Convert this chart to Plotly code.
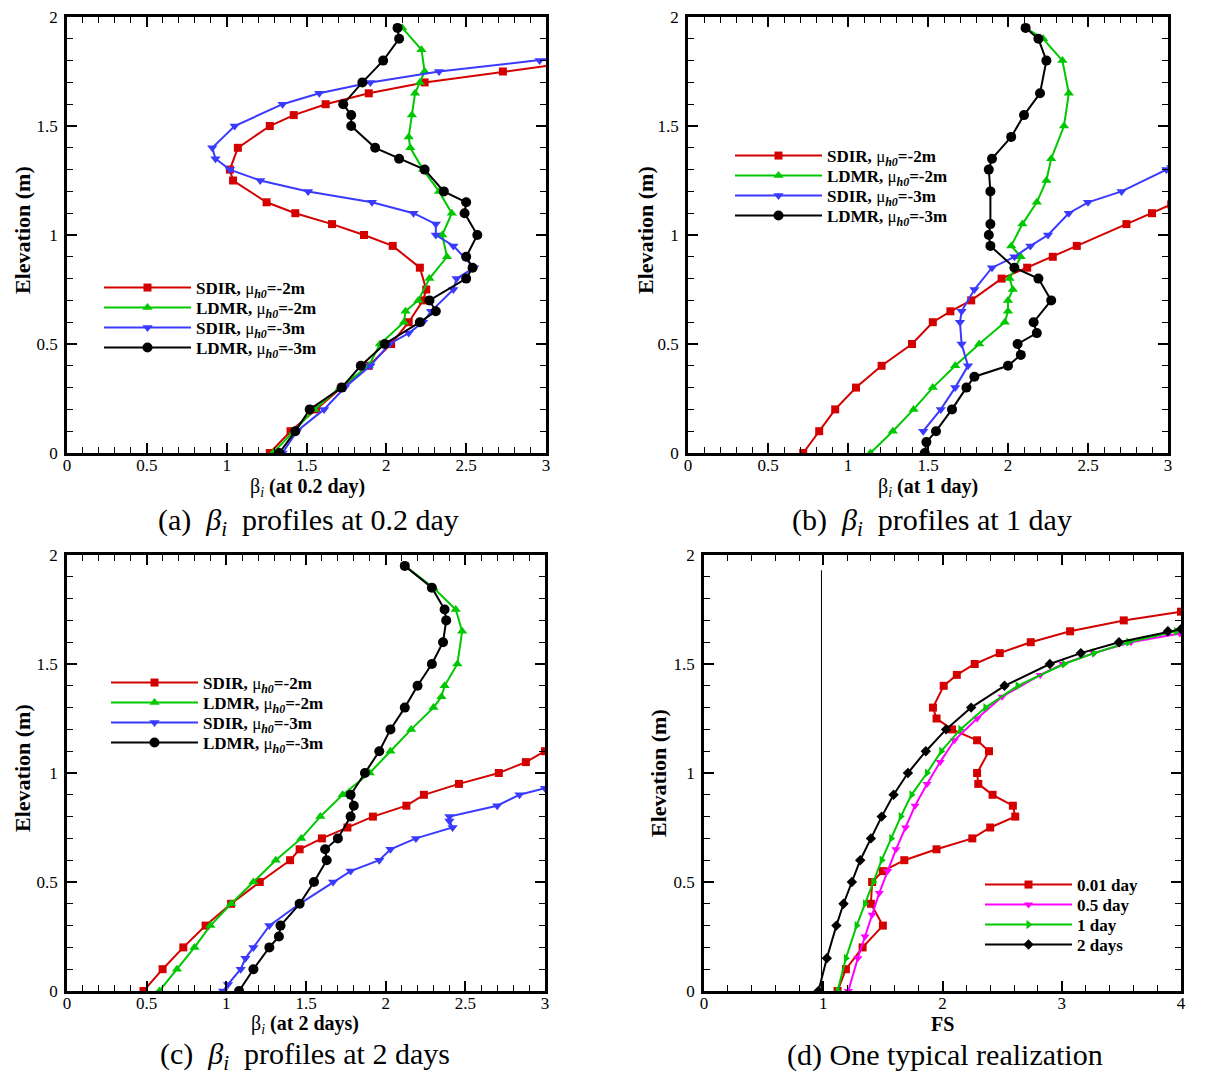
import plotly.graph_objects as go

# ---------------- data ----------------
# Panel (a): beta_i at 0.2 day
a_sdir2_x = [1.27, 1.40, 1.56, 1.72, 1.89, 2.03, 2.14, 2.23, 2.25, 2.21, 2.04, 1.86, 1.66, 1.43, 1.25, 1.04, 1.02, 1.07, 1.27, 1.42, 1.62, 1.89, 2.24, 2.73, 3.05]
a_sdir2_y = [0.0, 0.1, 0.2, 0.3, 0.4, 0.5, 0.6, 0.7, 0.75, 0.85, 0.95, 1.0, 1.05, 1.10, 1.15, 1.25, 1.30, 1.40, 1.50, 1.55, 1.60, 1.65, 1.70, 1.75, 1.78]
a_ldmr2_x = [1.29, 1.42, 1.55, 1.71, 1.89, 1.96, 2.11, 2.12, 2.20, 2.27, 2.38, 2.35, 2.41, 2.33, 2.23, 2.15, 2.14, 2.16, 2.18, 2.21, 2.24, 2.22, 2.10]
a_ldmr2_y = [0.0, 0.1, 0.2, 0.3, 0.4, 0.5, 0.6, 0.65, 0.70, 0.80, 0.90, 1.0, 1.10, 1.20, 1.30, 1.40, 1.45, 1.55, 1.65, 1.70, 1.75, 1.85, 1.95]
a_sdir3_x = [1.35, 1.44, 1.61, 1.74, 1.90, 2.02, 2.14, 2.23, 2.28, 2.42, 2.44, 2.55, 2.42, 2.31, 2.31, 2.17, 1.91, 1.51, 1.21, 1.02, 0.93, 0.91, 1.05, 1.35, 1.58, 1.90, 2.33, 2.96, 3.05]
a_sdir3_y = [0.0, 0.1, 0.2, 0.3, 0.4, 0.5, 0.55, 0.6, 0.65, 0.75, 0.80, 0.85, 0.95, 1.0, 1.05, 1.10, 1.15, 1.20, 1.25, 1.30, 1.35, 1.40, 1.50, 1.60, 1.65, 1.70, 1.75, 1.80, 1.81]
a_ldmr3_x = [1.33, 1.43, 1.52, 1.72, 1.84, 1.99, 2.21, 2.31, 2.27, 2.50, 2.54, 2.50, 2.57, 2.49, 2.50, 2.36, 2.24, 2.08, 1.93, 1.78, 1.78, 1.73, 1.85, 1.98, 2.08, 2.07]
a_ldmr3_y = [0.0, 0.1, 0.2, 0.3, 0.4, 0.5, 0.6, 0.65, 0.70, 0.80, 0.85, 0.90, 1.0, 1.10, 1.15, 1.20, 1.30, 1.35, 1.40, 1.50, 1.55, 1.60, 1.70, 1.80, 1.90, 1.95]

# Panel (b): beta_i at 1 day
b_sdir2_x = [0.72, 0.82, 0.92, 1.05, 1.21, 1.40, 1.53, 1.64, 1.77, 1.96, 2.12, 2.28, 2.43, 2.74, 2.90, 3.02]
b_sdir2_y = [0.0, 0.1, 0.2, 0.3, 0.4, 0.5, 0.6, 0.65, 0.70, 0.80, 0.85, 0.90, 0.95, 1.05, 1.10, 1.14]
b_ldmr2_x = [1.14, 1.28, 1.41, 1.53, 1.67, 1.82, 1.98, 2.00, 2.00, 2.03, 2.01, 2.08, 2.02, 2.09, 2.18, 2.24, 2.27, 2.35, 2.38, 2.34, 2.22, 2.11]
b_ldmr2_y = [0.0, 0.1, 0.2, 0.3, 0.4, 0.5, 0.6, 0.65, 0.70, 0.75, 0.80, 0.90, 0.95, 1.05, 1.15, 1.25, 1.35, 1.50, 1.65, 1.80, 1.90, 1.95]
b_sdir3_x = [1.47, 1.58, 1.67, 1.75, 1.71, 1.70, 1.71, 1.79, 1.90, 2.04, 2.14, 2.25, 2.38, 2.50, 2.71, 2.99, 3.02]
b_sdir3_y = [0.1, 0.2, 0.3, 0.4, 0.5, 0.6, 0.65, 0.75, 0.85, 0.90, 0.95, 1.0, 1.10, 1.15, 1.20, 1.30, 1.31]
b_ldmr3_x = [1.48, 1.49, 1.55, 1.65, 1.74, 1.79, 2.00, 2.08, 2.06, 2.18, 2.16, 2.27, 2.19, 2.04, 1.89, 1.88, 1.89, 1.89, 1.88, 1.90, 2.02, 2.10, 2.20, 2.24, 2.19, 2.11]
b_ldmr3_y = [0.0, 0.05, 0.1, 0.2, 0.3, 0.35, 0.4, 0.45, 0.5, 0.55, 0.6, 0.7, 0.8, 0.85, 0.95, 1.0, 1.05, 1.2, 1.3, 1.35, 1.45, 1.55, 1.65, 1.8, 1.9, 1.95]

# Panel (c): beta_i at 2 days
c_sdir2_x = [0.48, 0.60, 0.73, 0.87, 1.03, 1.21, 1.40, 1.46, 1.60, 1.76, 1.92, 2.13, 2.24, 2.46, 2.71, 2.88, 3.0]
c_sdir2_y = [0.0, 0.1, 0.2, 0.3, 0.4, 0.5, 0.6, 0.65, 0.7, 0.75, 0.8, 0.85, 0.9, 0.95, 1.0, 1.05, 1.10]
c_ldmr2_x = [0.58, 0.69, 0.80, 0.90, 1.03, 1.17, 1.31, 1.47, 1.59, 1.73, 1.90, 2.03, 2.16, 2.30, 2.35, 2.37, 2.45, 2.48, 2.44, 2.30, 2.12]
c_ldmr2_y = [0.0, 0.1, 0.2, 0.3, 0.4, 0.5, 0.6, 0.7, 0.8, 0.9, 1.0, 1.1, 1.2, 1.3, 1.35, 1.4, 1.5, 1.65, 1.75, 1.85, 1.95]
c_sdir3_x = [0.98, 1.01, 1.09, 1.12, 1.17, 1.27, 1.46, 1.67, 1.78, 1.96, 2.03, 2.19, 2.42, 2.40, 2.40, 2.70, 2.84, 3.0]
c_sdir3_y = [0.0, 0.03, 0.1, 0.15, 0.2, 0.3, 0.4, 0.5, 0.55, 0.6, 0.65, 0.7, 0.75, 0.78, 0.8, 0.85, 0.9, 0.93]
c_ldmr3_x = [1.08, 1.17, 1.27, 1.33, 1.34, 1.46, 1.55, 1.63, 1.62, 1.70, 1.78, 1.80, 1.78, 1.87, 1.96, 2.03, 2.12, 2.20, 2.29, 2.36, 2.38, 2.37, 2.29, 2.12]
c_ldmr3_y = [0.0, 0.1, 0.2, 0.25, 0.3, 0.4, 0.5, 0.6, 0.65, 0.7, 0.8, 0.85, 0.9, 1.0, 1.1, 1.2, 1.3, 1.4, 1.5, 1.6, 1.7, 1.75, 1.85, 1.95]

# Panel (d): FS for one realization
d_001_x = [1.12, 1.19, 1.33, 1.50, 1.40, 1.41, 1.50, 1.68, 1.95, 2.25, 2.40, 2.61, 2.59, 2.42, 2.30, 2.29, 2.39, 2.29, 2.08, 1.95, 1.92, 2.01, 2.12, 2.27, 2.48, 2.74, 3.07, 3.52, 4.0]
d_001_y = [0.0, 0.1, 0.2, 0.3, 0.4, 0.5, 0.55, 0.6, 0.65, 0.7, 0.75, 0.8, 0.85, 0.9, 0.95, 1.0, 1.1, 1.15, 1.2, 1.25, 1.3, 1.4, 1.45, 1.5, 1.55, 1.6, 1.65, 1.7, 1.74]
d_05_x = [1.21, 1.29, 1.35, 1.41, 1.47, 1.54, 1.61, 1.69, 1.77, 1.87, 1.98, 2.10, 2.29, 2.50, 2.82, 3.01, 3.27, 3.58, 3.99]
d_05_y = [0.0, 0.15, 0.25, 0.35, 0.45, 0.55, 0.65, 0.75, 0.85, 0.95, 1.05, 1.15, 1.25, 1.35, 1.45, 1.5, 1.55, 1.6, 1.64]
d_1_x = [1.12, 1.19, 1.28, 1.35, 1.42, 1.49, 1.57, 1.65, 1.74, 1.87, 1.99, 2.15, 2.36, 2.63, 3.02, 3.27, 3.56, 3.96]
d_1_y = [0.0, 0.15, 0.3, 0.4, 0.5, 0.6, 0.7, 0.8, 0.9, 1.0, 1.1, 1.2, 1.3, 1.4, 1.5, 1.55, 1.6, 1.65]
d_2_x = [0.96, 1.03, 1.11, 1.17, 1.24, 1.31, 1.40, 1.49, 1.59, 1.71, 1.86, 2.03, 2.24, 2.52, 2.90, 3.16, 3.48, 3.89, 4.0]
d_2_y = [0.0, 0.15, 0.3, 0.4, 0.5, 0.6, 0.7, 0.8, 0.9, 1.0, 1.1, 1.2, 1.3, 1.4, 1.5, 1.55, 1.6, 1.65, 1.66]
d_ref_x = [0.985, 0.985]
d_ref_y = [0.0, 1.93]

beta_names = ["SDIR, μ<sub><i>h0</i></sub>=-2m", "LDMR, μ<sub><i>h0</i></sub>=-2m",
              "SDIR, μ<sub><i>h0</i></sub>=-3m", "LDMR, μ<sub><i>h0</i></sub>=-3m"]
fs_names = ["0.01 day", "0.5 day", "1 day", "2 days"]

# ---------------- style ----------------
W, H = 1212, 1074
FONT = "Liberation Serif"
RED, GREEN, BLUE, BLACK, MAG = "#d40000", "#00c800", "#3a3aff", "#000000", "#ff00ff"
beta_styles = [(RED, "square", 8), (GREEN, "triangle-up", 9), (BLUE, "triangle-down", 9), (BLACK, "circle", 10)]
fs_styles = [(RED, "square", 8), (MAG, "triangle-down", 8), (GREEN, "triangle-right", 8), (BLACK, "diamond", 8)]

def px(x):
    return x / W

def py(y):
    return 1 - y / H

fig = go.Figure()

panels = [
    ("x", "y", [(a_sdir2_x, a_sdir2_y), (a_ldmr2_x, a_ldmr2_y), (a_sdir3_x, a_sdir3_y), (a_ldmr3_x, a_ldmr3_y)], beta_names, beta_styles),
    ("x2", "y2", [(b_sdir2_x, b_sdir2_y), (b_ldmr2_x, b_ldmr2_y), (b_sdir3_x, b_sdir3_y), (b_ldmr3_x, b_ldmr3_y)], beta_names, beta_styles),
    ("x3", "y3", [(c_sdir2_x, c_sdir2_y), (c_ldmr2_x, c_ldmr2_y), (c_sdir3_x, c_sdir3_y), (c_ldmr3_x, c_ldmr3_y)], beta_names, beta_styles),
    ("x4", "y4", [(d_001_x, d_001_y), (d_05_x, d_05_y), (d_1_x, d_1_y), (d_2_x, d_2_y)], fs_names, fs_styles),
]
# legend row anchors (line start x, row centre y) in pixels
legend_rows = [
    (107, [288, 308, 328, 348]),
    (738, [156, 176, 196, 216]),
    (114, [683, 703, 723, 743]),
    (988, [885, 905, 925, 945]),
]
legfont = dict(family=FONT, size=17, color="black")

li = 0
for (xa, ya, series, names, styles), (lx, rows) in zip(panels, legend_rows):
    for (xs, ys), name, (col, sym, ms), ry in zip(series, names, styles, rows):
        li += 1
        lname = "legend" if li == 1 else "legend%d" % li
        fig.add_trace(go.Scatter(
            x=xs, y=ys, xaxis=xa, yaxis=ya, legend=lname, mode="lines+markers",
            name="<b>" + name.replace("μ", "</b>μ<b>") + "</b>",
            line=dict(color=col, width=2), marker=dict(color=col, symbol=sym, size=ms)))
        fig.update_layout(**{lname: dict(x=px(lx - 8), y=py(ry), xanchor="left", yanchor="middle",
                                         font=legfont, bgcolor="rgba(0,0,0,0)", borderwidth=0,
                                         itemwidth=87)})

fig.add_trace(go.Scatter(x=d_ref_x, y=d_ref_y, xaxis="x4", yaxis="y4", mode="lines",
                         line=dict(color="black", width=1), showlegend=False))

# axes
domains = {
    1: ([px(67), px(546)], [py(453), py(17)]),
    2: ([px(688), px(1168)], [py(453), py(17)]),
    3: ([px(67), px(545)], [py(991), py(555)]),
    4: ([px(704), px(1181)], [py(991), py(555)]),
}
tickfont = dict(family=FONT, size=17, color="black")
for i in range(1, 5):
    xd, yd = domains[i]
    xr = [0, 4] if i == 4 else [0, 3]
    xdt = 1 if i == 4 else 0.5
    xminor = 0.2 if i == 4 else 0.1
    sfx = "" if i == 1 else str(i)
    xaxis = dict(domain=xd, range=xr, dtick=xdt, tick0=0, anchor="y" + sfx, automargin=False,
                 ticks="inside", ticklen=10, tickwidth=2, tickcolor="black",
                 minor=dict(ticks="inside", ticklen=6, dtick=xminor, tickwidth=1, tickcolor="black"),
                 showline=True, linewidth=2.5, linecolor="black", mirror="ticks",
                 showgrid=False, zeroline=False, tickfont=tickfont, ticklabelstandoff=-5)
    yaxis = dict(domain=yd, range=[0, 2], dtick=0.5, tick0=0, anchor="x" + sfx, automargin=False,
                 ticks="inside", ticklen=10, tickwidth=2, tickcolor="black",
                 minor=dict(ticks="inside", ticklen=6, dtick=0.1, tickwidth=1, tickcolor="black"),
                 showline=True, linewidth=2.5, linecolor="black", mirror="ticks",
                 showgrid=False, zeroline=False, tickfont=tickfont, ticklabelstandoff=3)
    yright = dict(overlaying="y" + sfx, anchor="x" + sfx, side="right", range=[0, 2], dtick=0.5, tick0=0,
                  automargin=False, showline=False, ticks="", showgrid=False, zeroline=False,
                  tickfont=tickfont, ticklabelstandoff=6)
    fig.update_layout(**{"xaxis" + sfx: xaxis, "yaxis" + sfx: yaxis, "yaxis" + str(i + 4): yright})

# titles as annotations
ann = []
def add(text, x, y, size, angle=0):
    ann.append(dict(text=text, x=px(x), y=py(y), xref="paper", yref="paper", showarrow=False,
                    font=dict(family=FONT, size=size, color="black"), textangle=angle,
                    xanchor="center", yanchor="middle"))

for (x, y) in [(22, 230), (645, 230), (22, 768), (658, 773)]:
    add("<b>Elevation (m)</b>", x, y, 22, -90)
add("β<sub><i>i</i></sub> <b>(at 0.2 day)</b>", 307, 488, 20)
add("β<sub><i>i</i></sub> <b>(at 1 day)</b>", 928, 488, 20)
add("β<sub><i>i</i></sub> <b>(at 2 days)</b>", 305, 1024, 20)
add("<b>FS</b>", 943, 1024, 20)
add("(a)  <i>β<sub>i</sub></i>  profiles at 0.2 day", 308, 522, 30)
add("(b)  <i>β<sub>i</sub></i>  profiles at 1 day", 932, 522, 30)
add("(c)  <i>β<sub>i</sub></i>  profiles at 2 days", 305, 1056, 30)
add("(d) One typical realization", 945, 1055, 30)

fig.update_layout(width=W, height=H, autosize=False, margin=dict(l=0, r=0, t=0, b=0),
                  paper_bgcolor="white", plot_bgcolor="white", annotations=ann,
                  font=dict(family=FONT, color="black"))

fig.write_html("out.html")
